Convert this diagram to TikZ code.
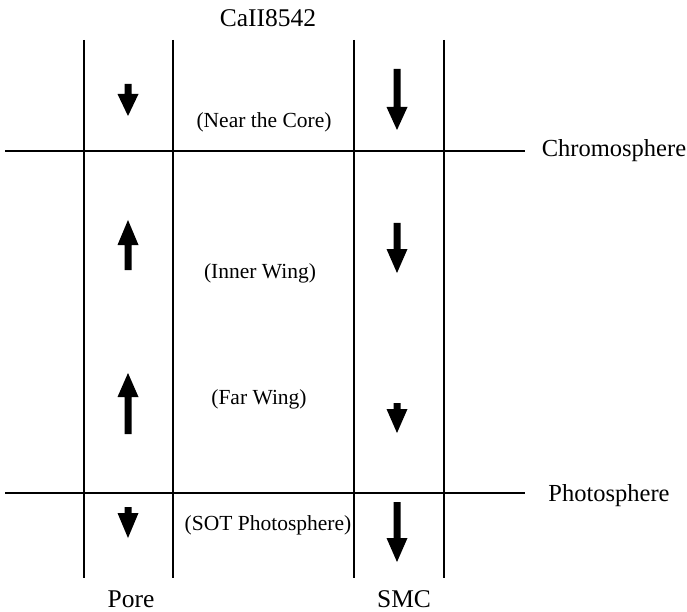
\documentclass[tikz,border=0pt]{standalone}
\usepackage{fontspec}
\setmainfont{Liberation Serif}
\tikzset{
  rule/.style={line width=1.4pt, black},
  biglabel/.style={font=\fontsize{25.5}{28}\selectfont, inner sep=0pt, anchor=base},
  sidelabel/.style={font=\fontsize{24.5}{28}\selectfont, inner sep=0pt, anchor=base},
  smalllabel/.style={font=\fontsize{21.5}{24}\selectfont, inner sep=0pt, anchor=base},
  fatarrow/.style={fill=black, draw=none}
}
% x, tail y, head-base y, tip y
\newcommand\vArr[4]{%
  \fill[fatarrow] (#1-3.5,#2) -- (#1-3.5,#3) -- (#1-10.5,#3) -- (#1,#4)
    -- (#1+10.5,#3) -- (#1+3.5,#3) -- (#1+3.5,#2) -- cycle;}
\begin{document}
\begin{tikzpicture}[x=1pt,y=-1pt]
\useasboundingbox (0,0) rectangle (687,612);
% vertical lines
\draw[rule] (84,40) -- (84,578);
\draw[rule] (173,40) -- (173,578);
\draw[rule] (354,40) -- (354,578);
\draw[rule] (444,40) -- (444,578);
% horizontal lines
\draw[rule] (5,151) -- (525,151);
\draw[rule] (5,493) -- (525,493);
% arrows
\vArr{128}{84}{94}{116}
\vArr{397}{69}{107}{130}
\vArr{128}{270}{245}{220}
\vArr{128}{434}{397}{373}
\vArr{397}{223}{249}{273}
\vArr{397}{403}{409}{433}
\vArr{128}{507}{513}{538}
\vArr{397}{502}{538}{562}
% labels
\node[biglabel] (title) at (268,27) {CaII8542};
\node[smalllabel] (core) at (264,128) {(Near the Core)};
\node[smalllabel] (inner) at (260,278) {(Inner Wing)};
\node[smalllabel] (far) at (259,404) {(Far Wing)};
\node[smalllabel] (sot) at (268,530) {(SOT Photosphere)};
\node[sidelabel] (chrom) at (614,157) {Chromosphere};
\node[sidelabel] (photo) at (609,501) {Photosphere};
\node[biglabel] (pore) at (131,607) {Pore};
\node[biglabel] (smc) at (404,607) {SMC};
\end{tikzpicture}
\end{document}
